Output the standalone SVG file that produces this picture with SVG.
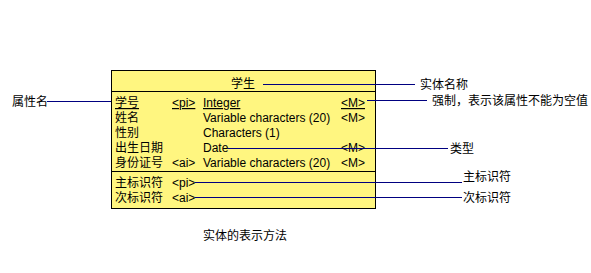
<svg xmlns="http://www.w3.org/2000/svg" width="591" height="273" viewBox="0 0 591 273">
<style>
text{font-family:"Liberation Sans","Noto Sans CJK SC",sans-serif;font-size:12px;fill:#000}
.u{text-decoration:underline}
.c{stroke:#000080;stroke-width:1;fill:none}
.b{fill:#FFF680;stroke:#000;stroke-width:1}
.s{stroke:#000;stroke-width:1}
</style>
<rect width="591" height="273" fill="#fff"/>
<g id="entity">
<rect class="b" x="111.5" y="70.5" width="264" height="138"/>
<line class="s" x1="111" y1="91.5" x2="375" y2="91.5"/>
<line class="s" x1="111" y1="171.5" x2="375" y2="171.5"/>
<text x="243" y="88" text-anchor="middle">学生</text>
<text x="115" y="107" class="u">学号</text>
<text x="172" y="107" class="u">&lt;pi&gt;</text>
<text x="203" y="107" class="u">Integer</text>
<text x="341" y="107" class="u">&lt;M&gt;</text>
<text x="115" y="122">姓名</text>
<text x="203" y="122">Variable characters (20)</text>
<text x="341" y="122">&lt;M&gt;</text>
<text x="115" y="137">性别</text>
<text x="203" y="137">Characters (1)</text>
<text x="115" y="152">出生日期</text>
<text x="203" y="152">Date</text>
<text x="341" y="152">&lt;M&gt;</text>
<text x="115" y="167">身份证号</text>
<text x="172" y="167">&lt;ai&gt;</text>
<text x="203" y="167">Variable characters (20)</text>
<text x="341" y="167">&lt;M&gt;</text>
<text x="115" y="187">主标识符</text>
<text x="172" y="187">&lt;pi&gt;</text>
<text x="115" y="202">次标识符</text>
<text x="172" y="202">&lt;ai&gt;</text>
</g>
<g id="connectors">
<line class="c" x1="263" y1="84.5" x2="415" y2="84.5"/>
<line class="c" x1="367" y1="100.5" x2="427" y2="100.5"/>
<line class="c" x1="47" y1="101.5" x2="111" y2="101.5"/>
<line class="c" x1="228" y1="148.5" x2="448" y2="148.5"/>
<line class="c" x1="195" y1="182.5" x2="462" y2="182.5"/>
<line class="c" x1="195" y1="197.5" x2="462" y2="197.5"/>
</g>
<g id="labels">
<text x="420" y="89">实体名称</text>
<text x="432" y="105">强制，表示该属性不能为空值</text>
<text x="12" y="106">属性名</text>
<text x="450" y="153">类型</text>
<text x="463" y="181">主标识符</text>
<text x="463" y="202">次标识符</text>
<text x="203" y="240">实体的表示方法</text>
</g>
</svg>
